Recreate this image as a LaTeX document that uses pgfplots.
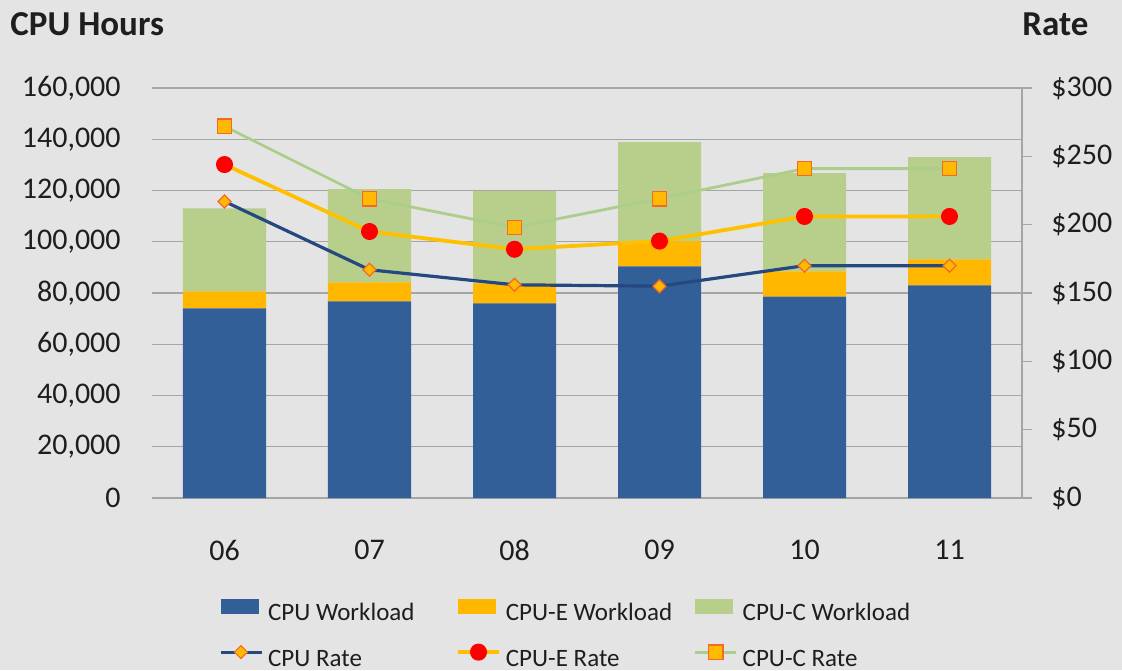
\documentclass[border=0pt]{standalone}
\usepackage{fontspec}
\setmainfont{Carlito}
\usepackage{pgfplots}
\pgfplotsset{compat=1.18}
\usepackage{pgfplotstable}

\definecolor{bgc}{RGB}{228,228,228}
\definecolor{gridc}{RGB}{165,165,165}
\definecolor{textc}{RGB}{30,30,30}
\definecolor{barblue}{RGB}{50,95,152}
\definecolor{barorange}{RGB}{255,183,0}
\definecolor{bargreen}{RGB}{184,207,140}
\definecolor{lineblue}{RGB}{38,72,128}
\definecolor{lineorange}{RGB}{255,192,0}
\definecolor{linegreen}{RGB}{172,206,138}
\definecolor{markfill}{RGB}{255,185,0}
\definecolor{markedge}{RGB}{245,105,40}

% month index, workloads (CPU hours), rates ($)
\pgfplotstableread{
m cpu  cpue  cpuc  rcpu rcpue rcpuc
0 74000 6600 32400 217 244 272
1 76700 7400 36400 167 195 219
2 76000 7800 36000 156 182 198
3 90400 9800 38700 155 188 219
4 78600 9800 38400 170 206 241
5 83000 10100 39900 170 206 241
}\data

\newcommand\tickfont{\fontsize{15}{18}\selectfont}

\begin{document}
\begin{tikzpicture}
\fill[bgc] (-76pt,-86pt) rectangle (485pt,249pt);

\begin{axis}[
  scale only axis,
  width=435pt, height=205pt,
  xmin=-0.5, xmax=5.5,
  ymin=0, ymax=160000,
  ybar stacked,
  bar width=41.5pt,
  xtick={0,...,5},
  xticklabels={06,07,08,09,10,11},
  ytick={0,20000,...,160000},
  scaled y ticks=false,
  /pgf/number format/assume math mode=true,
  yticklabel style={/pgf/number format/fixed, /pgf/number format/1000 sep={,}, inner sep=0pt, xshift=-15.5pt},
  xticklabel style={inner sep=0pt, yshift=-20.75pt},
  tick label style={font=\tickfont, text=textc},
  axis x line*=bottom, axis y line*=left,
  y axis line style={draw=none},
  x axis line style={draw=gridc, line width=0.6pt},
  major tick length=0pt,
  ymajorgrids,
  grid style={draw=gridc, line width=0.6pt},
  legend columns=3,
  legend cell align=left,
  legend style={
    at={(0.486,-0.2464)}, anchor=north,
    draw=none, fill=none, inner sep=0pt,
    font=\fontsize{12.5}{15}\selectfont, text=textc,
    column sep=0pt,
    row sep=9.5pt,
    /tikz/every odd column/.append style={column sep=2.5pt},
    nodes={inner sep=0pt, text height=8.5pt, text depth=2.5pt, text width=94pt, align=flush left},
  },
  barleg/.style={legend image code/.code={\fill[##1] (0pt,0.25pt) rectangle (19pt,7.75pt);}},
  lineleg/.style={legend image code/.code={\draw[mark repeat=2,mark phase=2,##1] plot coordinates {(0pt,4pt) (10.25pt,4pt) (20.5pt,4pt)};}},
]
\addplot[fill=barblue, draw=none, barleg] table[x=m, y=cpu] {\data};
\addlegendentry{CPU Workload}
\addplot[fill=barorange, draw=none, barleg] table[x=m, y=cpue] {\data};
\addlegendentry{CPU-E Workload}
\addplot[fill=bargreen, draw=none, barleg] table[x=m, y=cpuc] {\data};
\addlegendentry{CPU-C Workload}
\addlegendimage{lineleg, sharp plot, draw=lineblue, line width=1.6pt, mark=square*,
  mark size=2.3pt, mark options={rotate=45, fill=markfill, draw=markedge, line width=0.6pt}}
\addlegendentry{CPU Rate}
\addlegendimage{lineleg, sharp plot, draw=lineorange, line width=1.9pt, mark=*,
  mark size=3.3pt, mark options={fill=red, draw=red}}
\addlegendentry{CPU-E Rate}
\addlegendimage{lineleg, sharp plot, draw=linegreen, line width=1.4pt, mark=square*,
  mark size=3.6pt, mark options={fill=markfill, draw=markedge, line width=0.6pt}}
\addlegendentry{CPU-C Rate}
\end{axis}

\begin{axis}[
  scale only axis,
  width=435pt, height=205pt,
  xmin=-0.5, xmax=5.5,
  ymin=0, ymax=300,
  axis x line=none,
  axis y line*=right,
  ytick={0,50,...,300},
  /pgf/number format/assume math mode=true,
  yticklabel={\$\pgfmathprintnumber[fixed]{\tick}},
  yticklabel style={inner sep=0pt, xshift=9.5pt},
  tick label style={font=\tickfont, text=textc},
  y axis line style={draw=gridc, line width=0.6pt},
  tick style={draw=gridc, line width=0.6pt},
  tick align=outside,
  major tick length=5pt,
]
\addplot[lineblue, line width=1.6pt, mark=square*, mark size=2.3pt,
  mark options={rotate=45, fill=markfill, draw=markedge, line width=0.6pt}]
  table[x=m, y=rcpu] {\data};
\addplot[lineorange, line width=1.9pt, mark=*, mark size=3.3pt,
  mark options={fill=red, draw=red}]
  table[x=m, y=rcpue] {\data};
\addplot[linegreen, line width=1.4pt, mark=square*, mark size=3.6pt,
  mark options={fill=markfill, draw=markedge, line width=0.6pt}]
  table[x=m, y=rcpuc] {\data};
\end{axis}

\node[anchor=west, inner sep=0pt, text=textc, font=\bfseries\fontsize{17.5}{21}\selectfont] at (-71pt,236.75pt) {CPU Hours};
\node[anchor=west, inner sep=0pt, text=textc, font=\bfseries\fontsize{17.5}{21}\selectfont] at (435pt,236.75pt) {Rate};

\pgfresetboundingbox
\path[use as bounding box] (-76pt,-86pt) rectangle (485pt,249pt);
\end{tikzpicture}
\end{document}
